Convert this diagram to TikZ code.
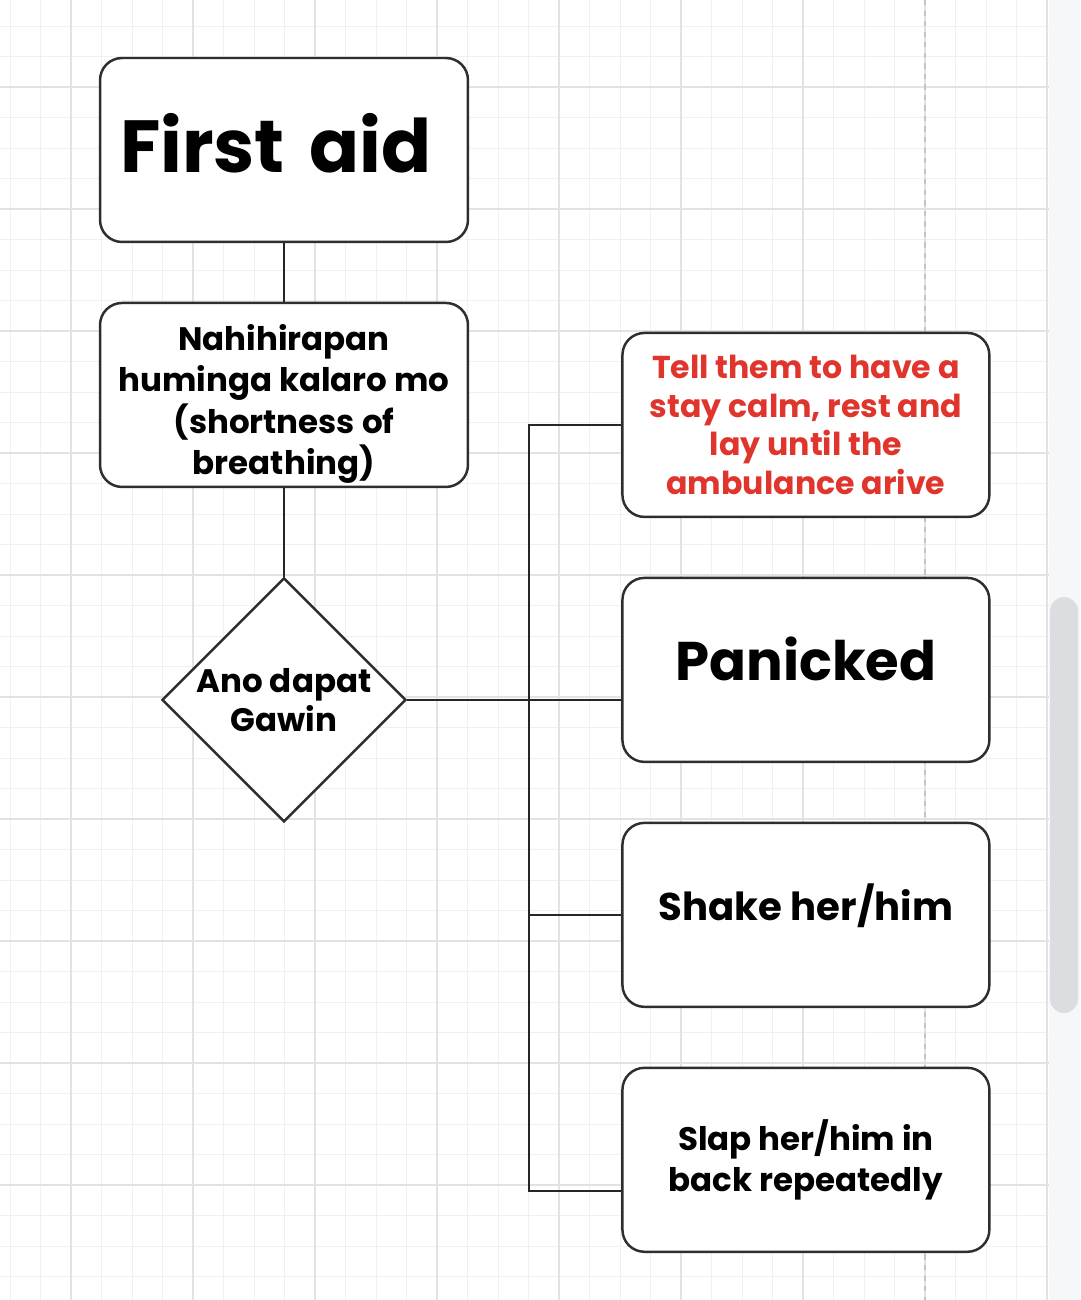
\documentclass[tikz,border=0pt]{standalone}
\usepackage{fontspec}
\setmainfont{Poppins}
\usepackage{tikz}
\usetikzlibrary{shapes.geometric, positioning}

\definecolor{gridmajor}{HTML}{E2E2E2}
\definecolor{gridminor}{HTML}{F0F0F0}
\definecolor{pagebreak}{HTML}{C4C4C4}
\definecolor{edge}{HTML}{2E2E2E}
\definecolor{alert}{HTML}{E0352D}
\definecolor{sidebar}{HTML}{F6F7F9}
\definecolor{scroller}{HTML}{DCDDE1}

\begin{document}
\begin{tikzpicture}[x=0.02cm, y=-0.02cm, node distance=4.9cm]
% Définition des styles
    \tikzstyle{block} = [rectangle, draw=edge, line width=1.4pt, fill=white, rounded corners=0.44cm, minimum width=7.36cm, minimum height=3.68cm, align=center, font=\bfseries\fontsize{18.5}{23.5}\selectfont]
    \tikzstyle{headbox} = [block, inner xsep=0.4cm, text width=6.56cm, align=left, text depth=0.28cm, font=\bfseries\fontsize{42}{48}\selectfont]
    \tikzstyle{decision} = [diamond, aspect=1, draw=edge, line width=1.4pt, fill=white, minimum size=4.88cm, inner sep=0pt, align=center, font=\bfseries\fontsize{18.5}{22}\selectfont]
    \tikzstyle{answer} = [block, minimum width=7.34cm]
    \tikzstyle{warn} = [answer, text=alert, font=\bfseries\fontsize{18}{22}\selectfont]
    \tikzstyle{line} = [draw=black!85, line width=1.3pt]

    % Fond: la grille
    \useasboundingbox (0,0) rectangle (1080,1300);
    \fill[white] (0,0) rectangle (1049,1300);
    \foreach \k in {-2,...,32}
        \draw[gridminor, line width=0.5pt] ({71+30.5*\k},0) -- ({71+30.5*\k},1300);
    \foreach \k in {-2,...,39}
        \draw[gridminor, line width=0.5pt] (0,{87+30.5*\k}) -- (1049,{87+30.5*\k});
    \foreach \k in {0,...,8}
        \draw[gridmajor, line width=0.7pt] ({71+122*\k},0) -- ({71+122*\k},1300);
    \foreach \k in {0,...,9}
        \draw[gridmajor, line width=0.7pt] (0,{87+122*\k}) -- (1049,{87+122*\k});
    \draw[pagebreak, line width=0.7pt, dashed] (925,0) -- (925,1300);
    \fill[sidebar] (1049,0) rectangle (1080,1300);
    \fill[scroller, rounded corners=0.28cm] (1050,597) rectangle (1078,1013);

    % Colonne de gauche
    \node [headbox] (aid) at (284,150) {\mbox{First aid}};
    \node [block, below of=aid, text height=3.36cm, inner ysep=0pt] (breath) {Nahihirapan\\huminga kalaro mo\\(shortness of\\breathing)};
    \node [decision, below of=breath, yshift=-1.2cm] (ask) {Ano dapat\\Gawin};

    % Colonne de droite: les réponses
    \node [warn, node distance=10.44cm, right of=breath, yshift=-0.6cm] (calm) {Tell them to have a\\stay calm, rest and\\lay until the\\ambulance arive};
    \node [answer, below of=calm, text depth=0.44cm, font=\bfseries\fontsize{31}{36}\selectfont] (panic) {Panicked};
    \node [answer, below of=panic, text depth=0.5cm, font=\bfseries\fontsize{22}{26}\selectfont] (shake) {Shake her/him};
    \node [answer, below of=shake] (slap) {Slap her/him in\\back repeatedly};

    % Connexions
    \coordinate [left=1.84cm of calm.west] (bus);
    \coordinate [below=0.62cm of slap.west] (slapin);
    \path [line] (aid) -- (breath);
    \path [line] (breath) -- (ask);
    \path [line] (ask.east) -- (ask.east -| panic.west);
    \path [line] (calm.west) -- (bus) |- (slapin);
    \path [line] (shake.west) -- (shake.west -| bus);
\end{tikzpicture}
\end{document}
